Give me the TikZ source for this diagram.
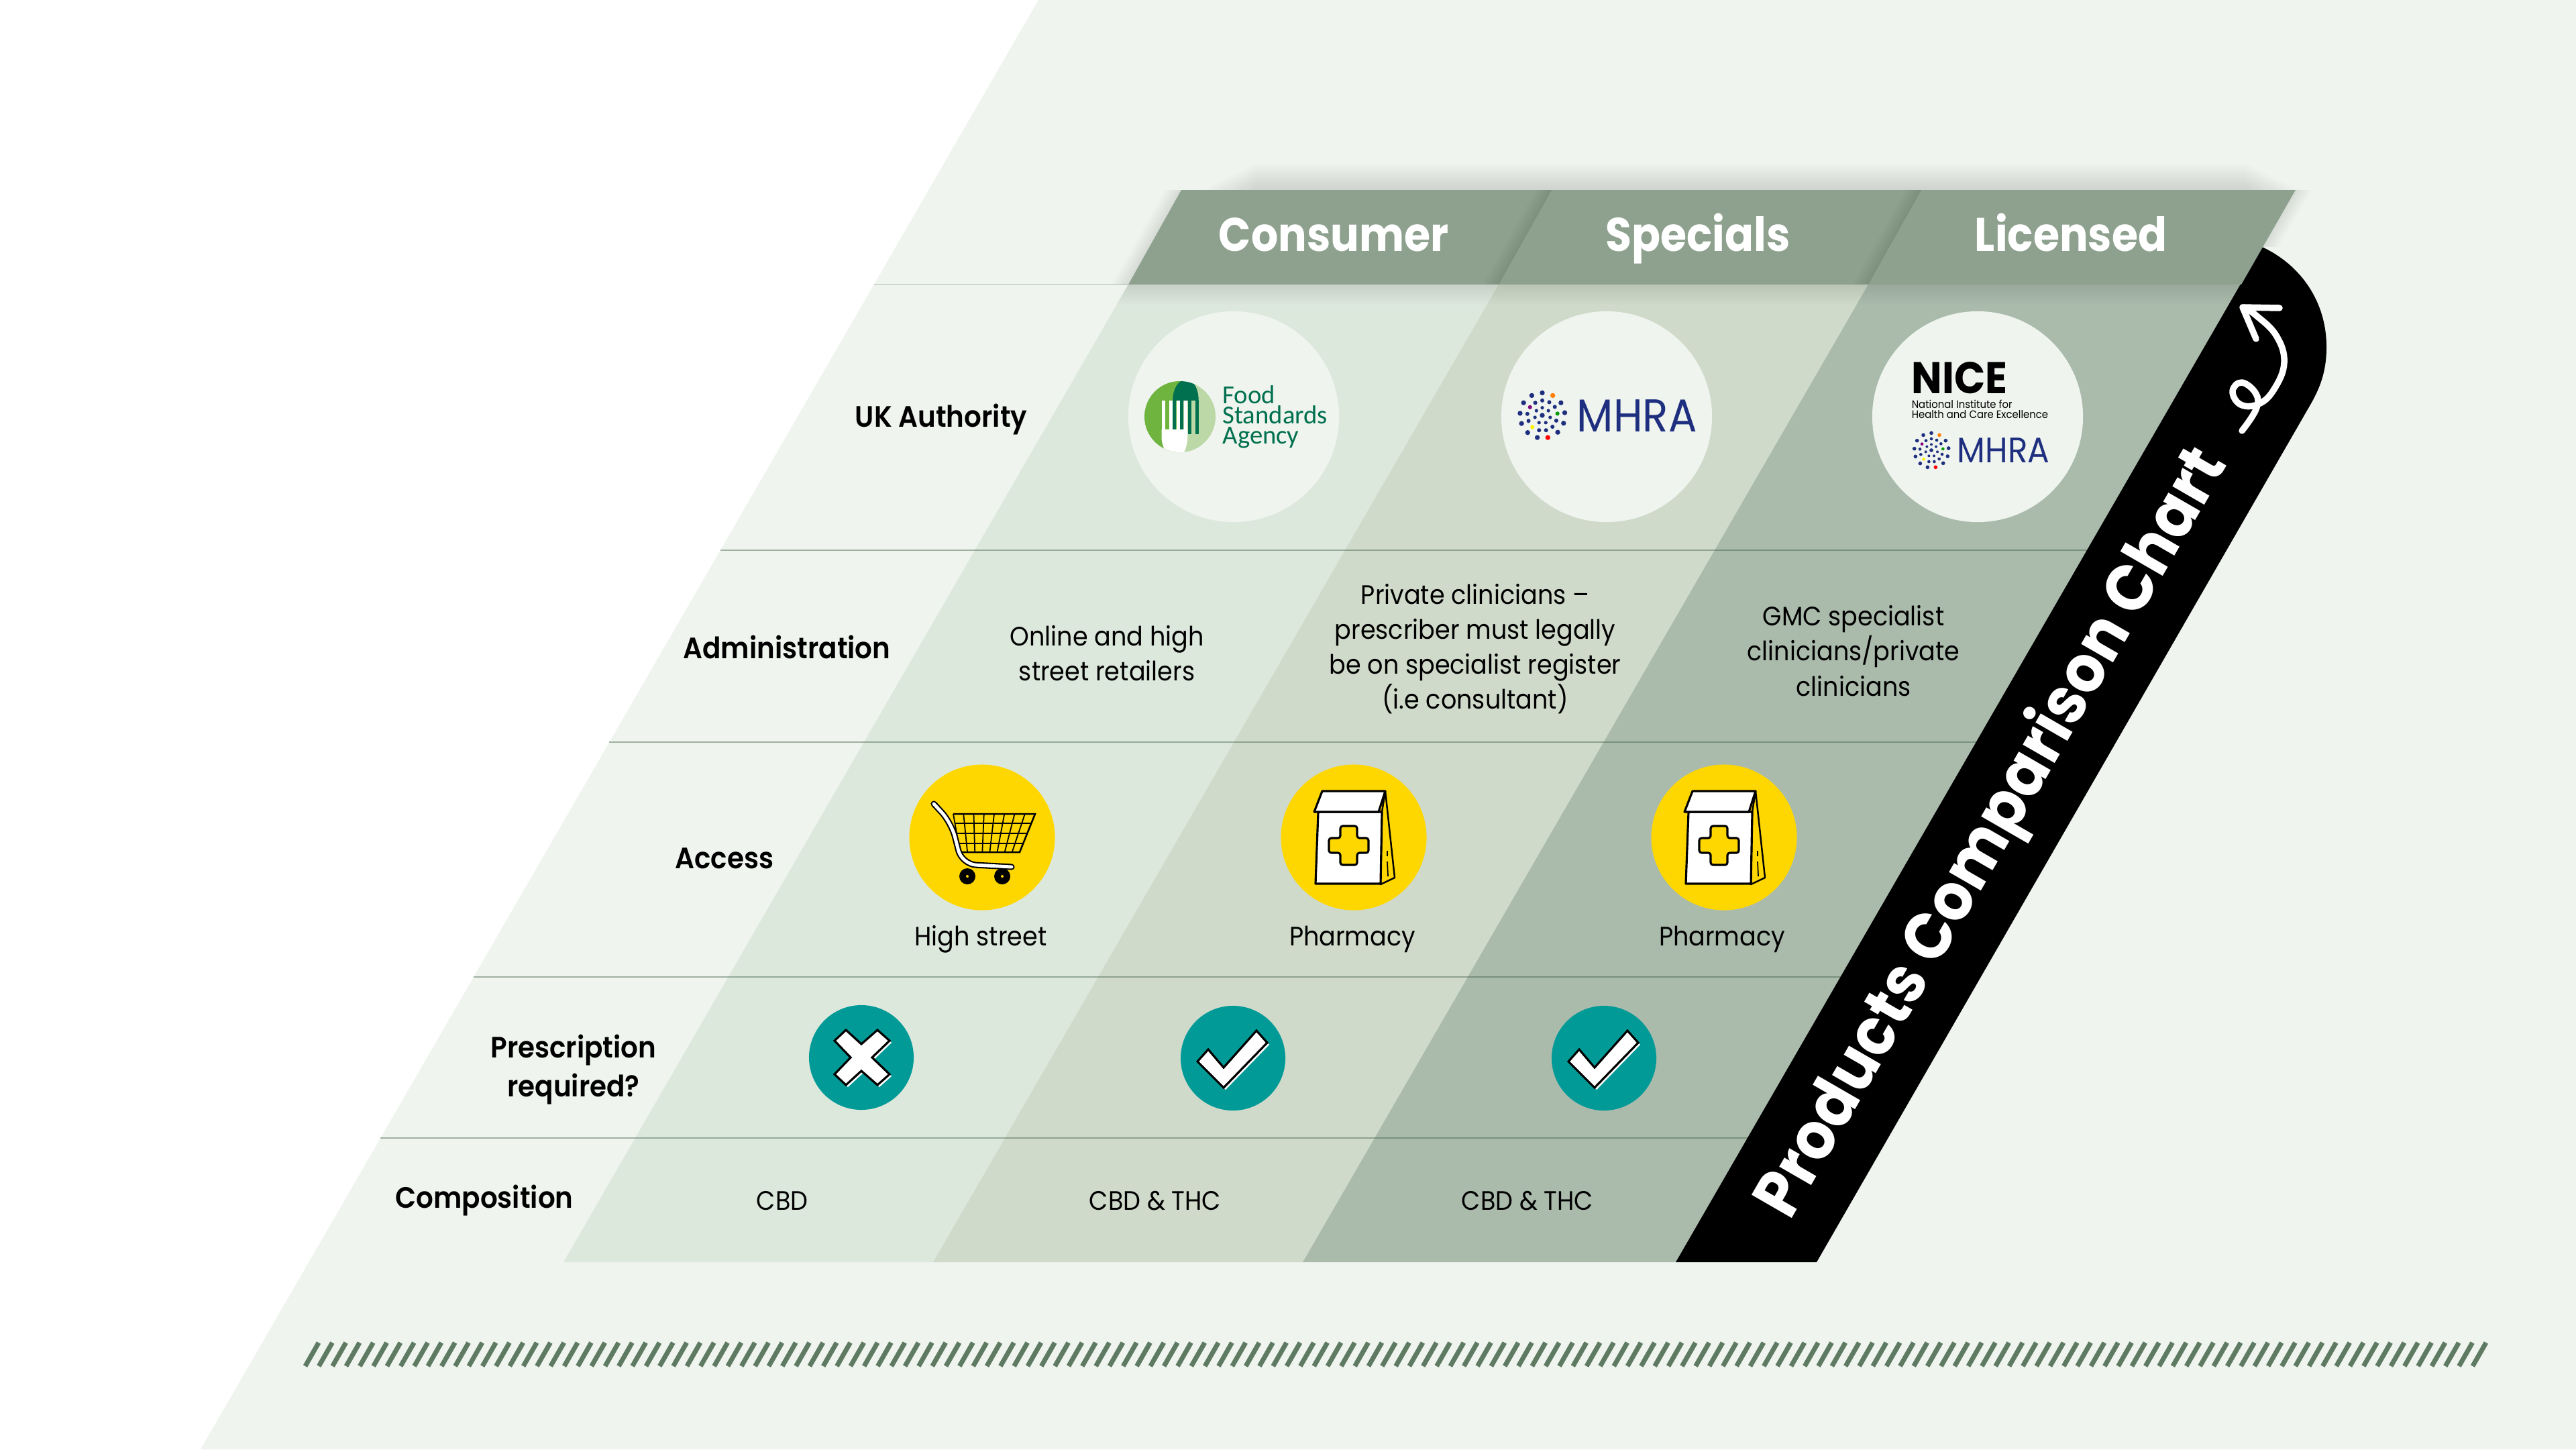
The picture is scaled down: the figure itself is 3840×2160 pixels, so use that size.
\documentclass[tikz,border=0pt]{standalone}
\usepackage{fontspec}
\setmainfont{Poppins}[FakeStretch=0.92]
\newfontfamily\semifont{Poppins SemiBold}[FakeStretch=0.92]
\newfontfamily\headfont{Poppins}[FakeStretch=0.9]
\newfontfamily\logofont{Carlito}
\definecolor{paper}{HTML}{EFF4EE}
\definecolor{colone}{HTML}{DDE8DD}
\definecolor{coltwo}{HTML}{CFDACA}
\definecolor{colthree}{HTML}{AABBAC}
\definecolor{headfill}{HTML}{8EA18E}
\definecolor{hatchgreen}{HTML}{5F7A62}
\definecolor{rowline}{HTML}{3F5F45}
\definecolor{signyellow}{HTML}{FFD700}
\definecolor{signteal}{HTML}{029A97}
\definecolor{fsadark}{HTML}{00704F}
\definecolor{fsamid}{HTML}{6FB43F}
\definecolor{fsalight}{HTML}{BBD8A6}
\definecolor{mhrablue}{HTML}{1F2F7F}
\begin{document}
\begin{tikzpicture}[x=0.01cm, y=-0.01cm,
    headlabel/.style = {anchor=base, text=white, font=\fontsize{20}{24}\headfont\bfseries},
    rowlabel/.style = {align=center, font=\fontsize{12.5}{16.7}\semifont},
    celltext/.style = {align=center, font=\fontsize{11.3}{14.8}\selectfont},
    logodisc/.style = {circle, fill=paper, minimum size=3.14cm, inner sep=0pt},
    shopdisc/.style = {circle, fill=signyellow, minimum size=2.17cm, inner sep=0pt},
    markdisc/.style = {circle, fill=signteal, minimum size=1.56cm, inner sep=0pt},
    rule/.style = {rowline, opacity=0.45, line width=0.8pt},
    tickicon/.pic = {
        \fill[white] (38,-38) -- (54,-20) -- (-11,47) -- (-50,8) -- (-34,-10) -- (-11,17) -- cycle;
        \draw[fill=white, line width=0.9pt] (35,-41) -- (51,-23) -- (-14,44) -- (-53,5) -- (-37,-13) -- (-14,14) -- cycle;
    },
    crossicon/.pic = {
        \fill[white] (-20,-38) -- (3,-17) -- (27,-38) -- (45,-22) -- (19,3) -- (45,28) -- (27,44) -- (3,23) -- (-20,44) -- (-37,28) -- (-13,3) -- (-37,-22) -- cycle;
        \draw[fill=white, line width=0.9pt] (-23,-41) -- (0,-20) -- (24,-41) -- (42,-25) -- (16,0) -- (42,25) -- (24,41) -- (0,20) -- (-23,41) -- (-40,25) -- (-16,0) -- (-40,-25) -- cycle;
    },
    carticon/.pic = {
        \draw[line width=0.7pt] (-43,-35) -- (79,-35) -- (56,22) -- (-33,22);
        \foreach \i in {0,...,8}
            \draw[line width=0.5pt] (-43+15.25*\i,-35) -- (-33+11.1*\i,22);
        \draw[line width=0.7pt] (-40,-21) -- (73,-21);
        \draw[line width=0.7pt] (-37,-6) -- (67,-6);
        \draw[line width=0.7pt] (-35,9) -- (61,9);
        \draw[line width=2.6pt, line cap=round, rounded corners=6pt] (-72,-50) -- (-46,-22) -- (-30,40) -- (44,44);
        \draw[white, line width=1.4pt, line cap=round, rounded corners=6pt] (-72,-50) -- (-46,-22) -- (-30,40) -- (44,44);
        \foreach \wx in {-22,30} {
            \fill (\wx,58) circle[radius=12];
            \fill[signyellow] (\wx,58) circle[radius=2];
        }
    },
    bagicon/.pic = {
        \draw[fill=signyellow, line width=0.7pt, line join=round] (47,-69) -- (61,60) -- (40,70) -- (42,-38) -- cycle;
        \draw[fill=white, line width=0.9pt, line join=round] (-53,-38) -- (-57,69) -- (40,69) -- (42,-38) -- cycle;
        \draw[fill=white, line width=0.9pt, line join=round] (-47,-69) -- (47,-69) -- (37,-38) -- (-59,-38) -- cycle;
        \draw[fill=signyellow, line width=0.9pt, line join=round, rounded corners=1pt] (-20,-17) -- (5,-17) -- (5,1) -- (22,1) -- (22,23) -- (5,23) -- (5,41) -- (-20,41) -- (-20,23) -- (-37,23) -- (-37,1) -- (-20,1) -- cycle;
        \draw[line width=0.5pt] (50,20) -- (50,28) (50,36) -- (51,58);
    },
    dotmark/.pic = {
        \foreach \dx/\dy/\dotcol in {0/-77/mhrablue, -36/-68/mhrablue, 36/-68/orange, -64/-43/mhrablue, 64/-43/mhrablue, -76/-7/mhrablue, 77/-9/mhrablue, -71/28/mhrablue, 73/27/mhrablue, -50/59/mhrablue, 53/58/mhrablue, -17/76/mhrablue, 19/76/red}
            \fill[\dotcol] (\dx,\dy) circle[radius=8.5];
        \foreach \dx/\dy/\dotcol in {-24/-43/mhrablue, 0/-51/mhrablue, 24/-45/mhrablue, 43/-29/mhrablue, -42/-28/violet, -51/-5/mhrablue, 52/-6/green!60!black, -47/19/mhrablue, 48/18/mhrablue, -34/40/yellow, 35/39/mhrablue, -11/51/mhrablue, 13/51/mhrablue}
            \fill[\dotcol] (\dx,\dy) circle[radius=7];
        \foreach \dx/\dy in {-20/-16, 0/-26, 21/-16, -25/7, 27/7, -11/25, 12/25}
            \fill[mhrablue] (\dx,\dy) circle[radius=6];
        \fill[mhrablue] (0,0) circle[radius=8.5];
    }]
    \useasboundingbox (0,0) rectangle (3840,2160);
    \fill[white] (0,0) rectangle (3840,2160);
    \fill[paper] (1548,0) -- (3840,0) -- (3840,2160) -- (299,2160) -- cycle;

    \fill[colone] (1682,424) -- (2234,424) -- (1391,1881) -- (840,1881) -- cycle;
    \fill[coltwo] (2234,424) -- (2785,424) -- (1942,1881) -- (1391,1881) -- cycle;
    \fill[colthree] (2785,424) -- (3341,424) -- (2498,1881) -- (1942,1881) -- cycle;

    \shade[top color=colone!90!black, bottom color=colone] (1682,424) -- (2234,424) -- (2216,455) -- (1664,455) -- cycle;
    \shade[top color=coltwo!90!black, bottom color=coltwo] (2234,424) -- (2785,424) -- (2767,455) -- (2216,455) -- cycle;
    \shade[top color=colthree!90!black, bottom color=colthree] (2785,424) -- (3341,424) -- (3323,455) -- (2767,455) -- cycle;
    \foreach \s in {1,...,16} {
        \fill[black, opacity=0.006] (1790+5*\s,283-2.5*\s) rectangle (3430-5*\s,283);
    }
    \foreach \s in {1,...,8} {
        \fill[black, opacity=0.012] (1761-3*\s,283) -- (1761,283) -- (1682,424) -- (1682-3*\s,424) -- cycle;
        \fill[black, opacity=0.012] (3422,283) -- (3422+3*\s,283) -- (3372+3*\s,368) -- (3372,368) -- cycle;
    }

    \coordinate (ruleaL) at (1303,424);
    \coordinate (ruleaR) at (1682,424);
    \coordinate (rulebL) at (1074,820);
    \coordinate (rulebR) at (3112,820);
    \coordinate (rulecL) at (908,1106);
    \coordinate (rulecR) at (2946,1106);
    \coordinate (ruledL) at (706,1456);
    \coordinate (ruledR) at (2744,1456);
    \coordinate (ruleeL) at (567,1696);
    \coordinate (ruleeR) at (2605,1696);
    \draw[rule, opacity=0.2] (ruleaL) -- (ruleaR);
    \draw[rule] (rulebL) -- (rulebR);
    \draw[rule] (rulecL) -- (rulecR);
    \draw[rule] (ruledL) -- (ruledR);
    \draw[rule] (ruleeL) -- (ruleeR);

    \fill[black] (2498,1881) -- (3372,368) .. controls (3430,395) and (3468,450) .. (3468,517) .. controls (3468,555) and (3458,580) .. (3440,610) -- (2708,1881) -- cycle;
    \draw[white, line width=2.7pt, line cap=round, line join=round] plot[smooth, tension=0.7] coordinates {(3342,642) (3363,610) (3363,587) (3342,570) (3328,583) (3340,603) (3367,602) (3390,580) (3405,540) (3393,500) (3363,470) (3345,458)};
    \draw[white, line width=2.7pt, line cap=round, line join=round] (3398,459) -- (3343,458) -- (3363,505);
    \node[rotate=60, text=white, font=\fontsize{28}{32}\selectfont\bfseries] (chartname) at (2972,1243) {Products Comparison Chart};

    \fill[headfill] (1761,283) -- (3422,283) -- (3341,424) -- (1682,424) -- cycle;
    \foreach \s in {1,...,8} {
        \fill[black, opacity=0.012] (2313-3*\s,283) -- (2313,283) -- (2234,424) -- (2234-3*\s,424) -- cycle;
        \fill[black, opacity=0.012] (2864-3*\s,283) -- (2864,283) -- (2785,424) -- (2785-3*\s,424) -- cycle;
    }
    \node[headlabel] (consumer) at (1988,374) {Consumer};
    \node[headlabel] (specials) at (2531,374) {Specials};
    \node[headlabel] (licensed) at (3087,374) {Licensed};

    \node[rowlabel] (authority) at (1403,625) {UK Authority};
    \node[rowlabel] (administration) at (1173,964) {Administration};
    \node[rowlabel] (access) at (1080,1279) {Access};
    \node[rowlabel] (prescription) at (855,1594) {Prescription\\required?};
    \node[rowlabel] (composition) at (722,1789) {Composition};

    \node[logodisc] (fsadisc) at (1839,621) {};
    \node[logodisc] (mhradisc) at (2395,621) {};
    \node[logodisc] (nicedisc) at (2948,621) {};

    \begin{scope}
        \clip (1759,621) circle[radius=53];
        \fill[fsalight] (1700,560) rectangle (1820,680);
        \fill[fsamid] (1700,560) rectangle (1760,680);
        \fill[fsalight] (1748,640) rectangle (1790,680);
        \fill[fsadark] (1748.3,597) .. controls (1748,580) and (1756,566) .. (1768,566) .. controls (1780,566) and (1786.7,580) .. (1786.7,597) -- cycle;
        \foreach \t in {1748.3,1759.3,1770.7,1781.7}
            \fill[fsadark] (\t,596) rectangle (\t+5,647);
        \fill[fsamid] (1736.7,597) rectangle (1742.7,647);
        \fill[fsalight] (1776,597) rectangle (1781.7,647);
        \foreach \t in {1731.7,1742.7,1754,1765}
            \fill[white] (\t,597) rectangle (\t+5.3,645);
        \fill[white] (1731.7,640) -- (1731.7,655) .. controls (1733,668) and (1740,680) .. (1748,680) -- (1762,680) .. controls (1768,670) and (1770.3,660) .. (1770.3,650) -- (1770.3,640) -- cycle;
    \end{scope}
    \node[anchor=west, align=left, inner sep=0pt, text=fsadark, font=\fontsize{11}{8.5}\logofont] (fsaname) at (1822,621) {Food\\Standards\\Agency};

    \pic[scale=0.435] at (2299,619) {dotmark};
    \node[anchor=west, inner sep=0pt, text=mhrablue, font=\fontsize{19.5}{24}\selectfont] (mhraname) at (2350,620) {MHRA};

    \node[anchor=west, inner sep=0pt, font=\fontsize{18.8}{20}\bfseries] (nicename) at (2849,563) {NICE};
    \node[anchor=west, align=left, inner sep=0pt, font=\fontsize{4.6}{4.4}\selectfont] (nicefull) at (2849,610) {National Institute for\\Health and Care Excellence};
    \pic[scale=0.333] at (2879,671) {dotmark};
    \node[anchor=west, inner sep=0pt, text=mhrablue, font=\fontsize{15}{18}\selectfont] (nicemhra) at (2917,671) {MHRA};

    \node[celltext] (onlinetext) at (1650,974) {Online and high\\street retailers};
    \node[celltext] (privatetext) at (2199,967) {Private clinicians –\\prescriber must legally\\be on specialist register\\(i.e consultant)};
    \node[celltext] (gmctext) at (2763,970) {GMC specialist\\clinicians/private\\clinicians};

    \node[shopdisc] (cartdisc) at (1464,1248) {};
    \node[shopdisc] (bagdisca) at (2018,1248) {};
    \node[shopdisc] (bagdiscb) at (2570,1248) {};
    \pic at (cartdisc) {carticon};
    \pic at (bagdisca) {bagicon};
    \pic at (bagdiscb) {bagicon};
    \node[celltext] (highstreet) at (1462,1400) {High street};
    \node[celltext] (pharmacya) at (2016,1400) {Pharmacy};
    \node[celltext] (pharmacyb) at (2567,1400) {Pharmacy};

    \node[markdisc] (crossdisc) at (1284,1576) {};
    \node[markdisc] (tickdisca) at (1838,1577) {};
    \node[markdisc] (tickdiscb) at (2391,1577) {};
    \pic at (crossdisc) {crossicon};
    \pic at (tickdisca) {tickicon};
    \pic at (tickdiscb) {tickicon};

    \node[celltext] (cbd) at (1166,1790) {CBD};
    \node[celltext] (cbdthca) at (1722,1790) {CBD \& THC};
    \node[celltext] (cbdthcb) at (2277,1790) {CBD \& THC};

    \foreach \i in {0,...,159}
        \draw[hatchgreen, line width=2pt] (455+20.32*\i,2036) -- (475+20.32*\i,2001);
\end{tikzpicture}
\end{document}
